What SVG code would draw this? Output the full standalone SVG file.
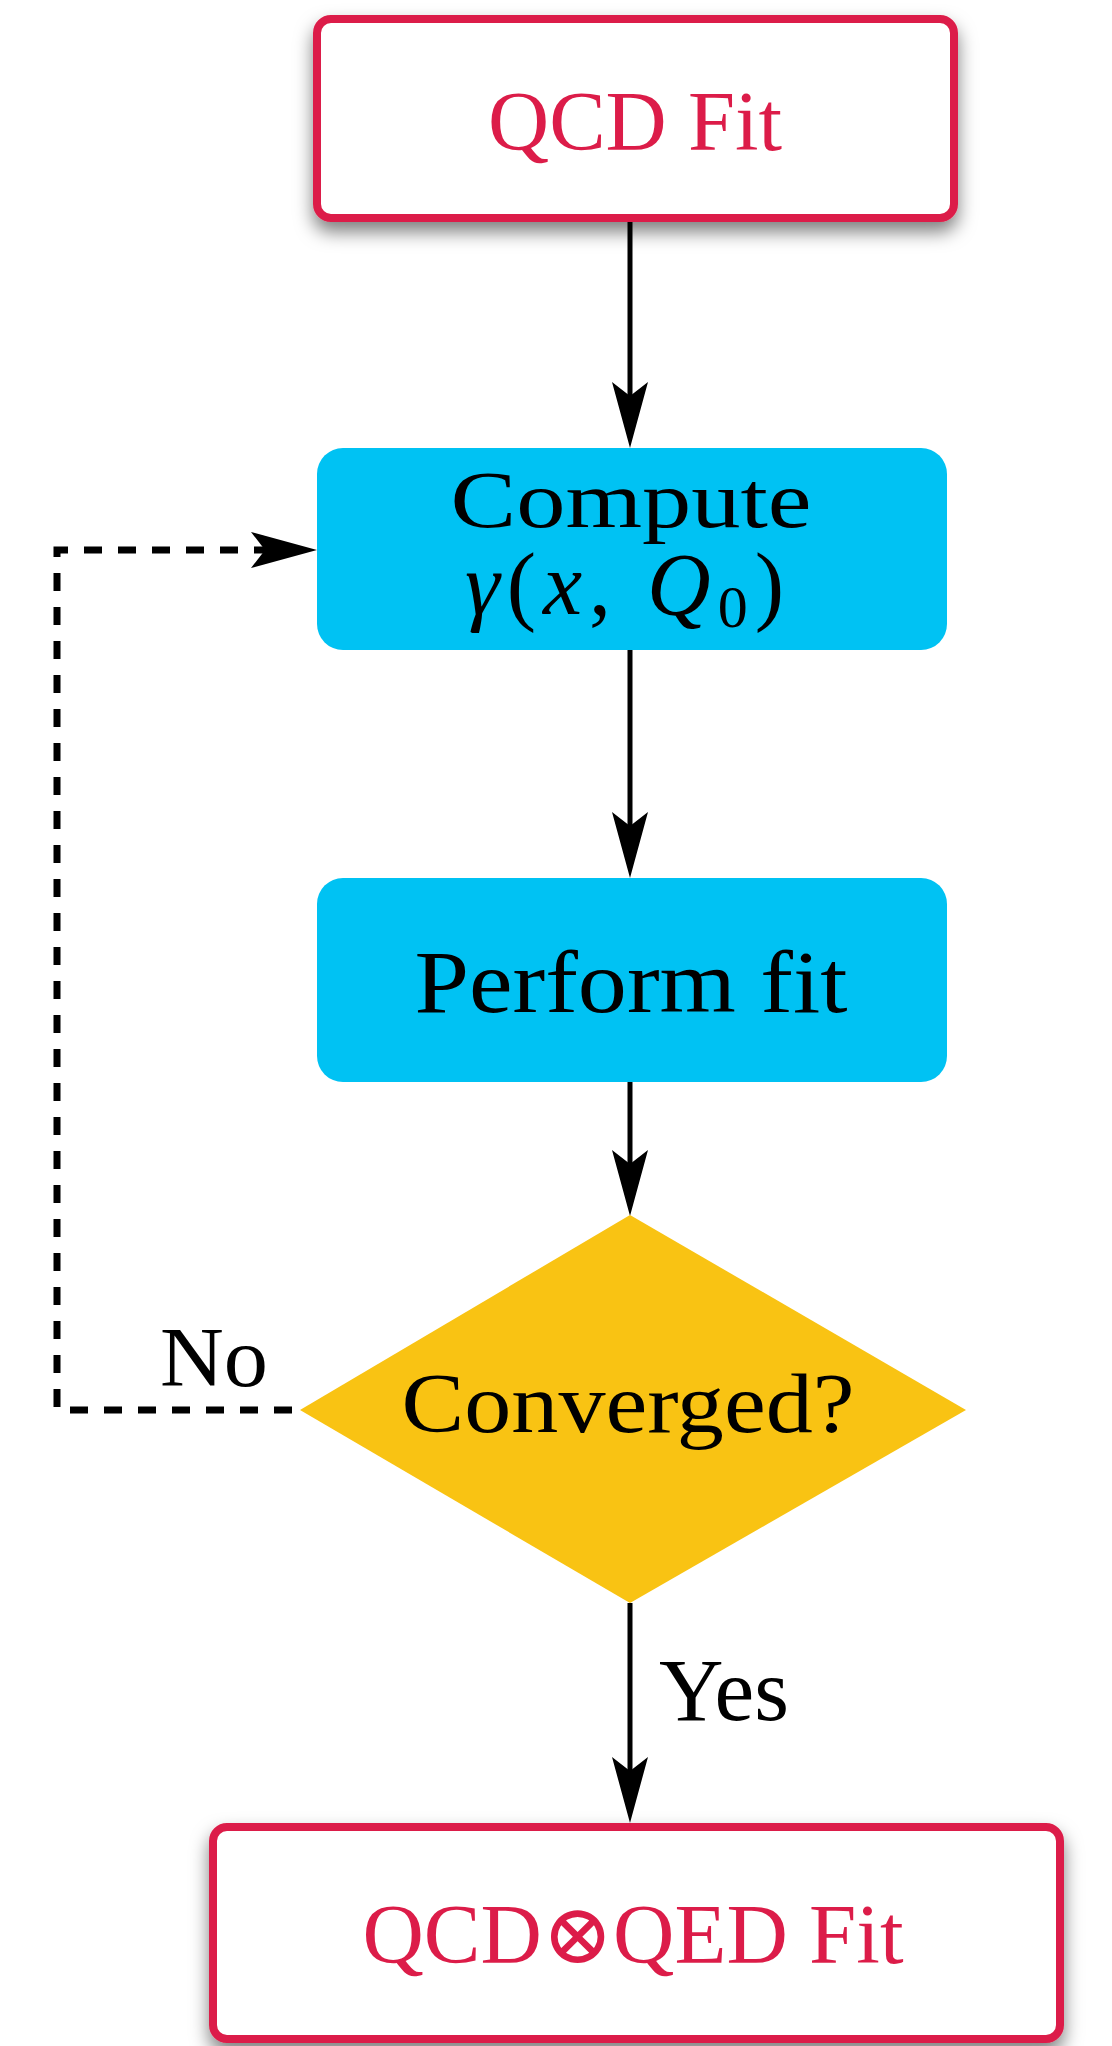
<svg xmlns="http://www.w3.org/2000/svg" width="1112" height="2046" viewBox="0 0 1112 2046">
  <defs>
    <filter id="soft-shadow" x="-10%" y="-20%" width="120%" height="160%">
      <feDropShadow dx="0" dy="10" stdDeviation="9" flood-color="#000" flood-opacity="0.5"/>
    </filter>
    <!-- stealth arrowhead; tip sits 40 units past the end of the line -->
    <marker id="stealth" viewBox="-30 -20 72 40" markerWidth="72" markerHeight="40" refX="0" refY="0" orient="auto" markerUnits="userSpaceOnUse">
      <path d="M40,0 L-26,-18 L-12,0 L-26,18 Z" fill="#000"/>
    </marker>
    <style>
      .term { fill: #fff; stroke: #dc1f48; stroke-width: 8; }
      .term-label { fill: #dc1f48; font-family: "Liberation Serif", "DejaVu Serif", serif; text-anchor: middle; }
      .step { fill: #00c2f3; }
      .decision { fill: #f9c313; }
      .label { fill: #000; font-family: "Liberation Serif", "DejaVu Serif", serif; text-anchor: middle; }
      .flow { fill: none; stroke: #000; stroke-width: 5; }
      .loop { fill: none; stroke: #000; stroke-width: 7; stroke-dasharray: 18 16; }
    </style>
  </defs>

  <rect width="1112" height="2046" fill="#fff"/>

  <!-- connectors -->
  <g id="connectors">
    <line class="flow" x1="630" y1="222" x2="630" y2="408" marker-end="url(#stealth)"/>
    <line class="flow" x1="630" y1="650" x2="630" y2="838" marker-end="url(#stealth)"/>
    <line class="flow" x1="630" y1="1082" x2="630" y2="1176" marker-end="url(#stealth)"/>
    <line class="flow" x1="630" y1="1603" x2="630" y2="1783" marker-end="url(#stealth)"/>
    <path class="loop" d="M292,1410 H57 V550 H277" marker-end="url(#stealth)"/>
    <text class="label" x="214" y="1386" font-size="84" textLength="108" lengthAdjust="spacingAndGlyphs">No</text>
    <text class="label" x="724" y="1720" font-size="88" textLength="130" lengthAdjust="spacingAndGlyphs">Yes</text>
  </g>

  <!-- start -->
  <g id="qcd-fit" filter="url(#soft-shadow)">
    <rect class="term" x="317" y="19" width="637" height="199" rx="14"/>
    <text class="term-label" x="635" y="150" font-size="84" textLength="294" lengthAdjust="spacingAndGlyphs">QCD Fit</text>
  </g>

  <!-- photon PDF initialisation -->
  <g id="compute">
    <rect class="step" x="317" y="448" width="630" height="202" rx="26"/>
    <text class="label" x="631" y="527" font-size="80" textLength="361" lengthAdjust="spacingAndGlyphs">Compute</text>
    <text class="label" x="628" y="614" font-size="88" letter-spacing="7"><tspan font-style="italic">γ</tspan>(<tspan font-style="italic">x</tspan>, <tspan font-style="italic">Q</tspan><tspan font-size="60" dy="13">0</tspan><tspan dy="-13">)</tspan></text>
  </g>

  <!-- fit step -->
  <g id="perform-fit">
    <rect class="step" x="317" y="878" width="630" height="204" rx="26"/>
    <text class="label" x="631" y="1012" font-size="88" textLength="433" lengthAdjust="spacingAndGlyphs">Perform fit</text>
  </g>

  <!-- convergence test -->
  <g id="converged">
    <polygon class="decision" points="630,1215 966,1410 630,1603 300,1410"/>
    <text class="label" x="628" y="1432" font-size="84" textLength="453" lengthAdjust="spacingAndGlyphs">Converged?</text>
  </g>

  <!-- end -->
  <g id="qcd-qed-fit" filter="url(#soft-shadow)">
    <rect class="term" x="213" y="1827" width="847" height="212" rx="14"/>
    <text class="term-label" x="633" y="1963" font-size="84" textLength="541" lengthAdjust="spacingAndGlyphs">QCD⊗QED Fit</text>
  </g>
</svg>
